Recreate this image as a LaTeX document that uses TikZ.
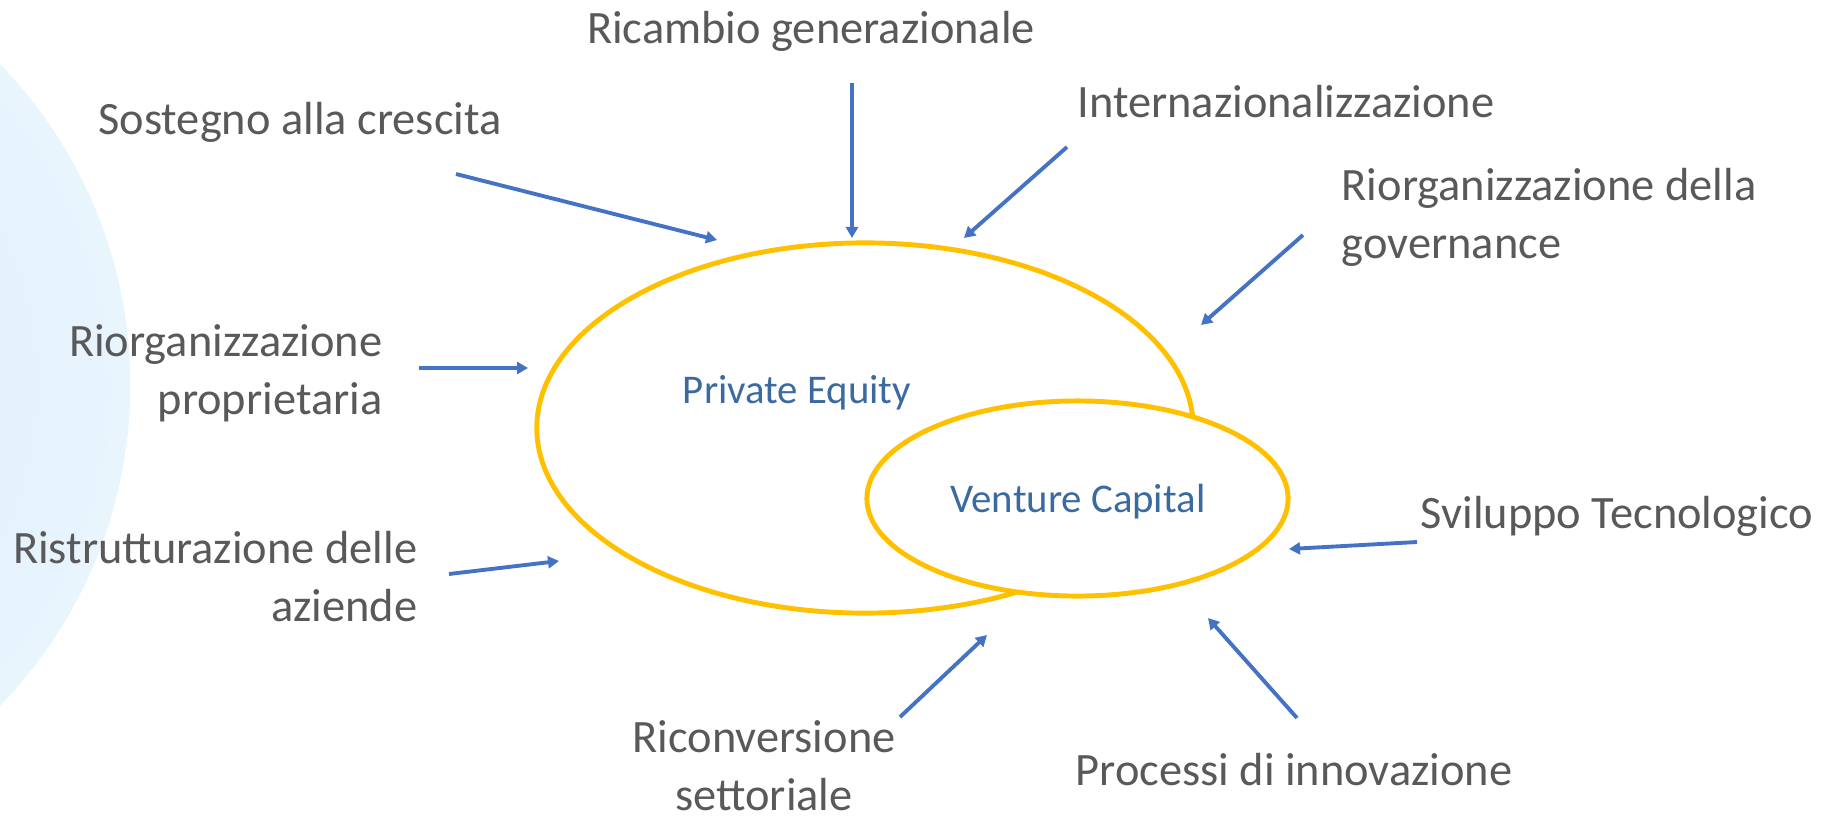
\documentclass[tikz,border=0pt]{standalone}
\usepackage{fontspec}
\setmainfont{Carlito}
\usetikzlibrary{arrows.meta}
\definecolor{txtgray}{HTML}{595959}
\definecolor{arrowblue}{HTML}{4472C4}
\definecolor{ringgold}{HTML}{FFC000}
\definecolor{pvtext}{HTML}{3B6AA0}
\definecolor{bgin}{HTML}{D3E9FA}
\definecolor{bgout}{HTML}{E9F5FD}
\begin{document}
\begin{tikzpicture}[x=0.01cm,y=-0.01cm,
  lbl/.style={text=txtgray, font=\fontsize{13.2}{16.5}\selectfont, inner sep=0pt},
  inlbl/.style={text=pvtext, font=\fontsize{11.6}{14}\selectfont, inner sep=0pt},
  ring/.style={draw=ringgold, line width=1.4pt},
  arr/.style={draw=arrowblue, line width=1.1pt, -{Triangle[length=1.1mm,width=1.2mm]}}]
\useasboundingbox (0,0) rectangle (1821,815);
\begin{scope}
  \clip (0,0) rectangle (1821,815);
  \shade[inner color=bgin, outer color=bgout] (-330,385) circle [radius=4.6cm];
\end{scope}

% rings
\draw[ring] (865,428) ellipse [x radius=3.28cm, y radius=1.85cm];
\draw[ring, fill=white] (1077.5,498.5) ellipse [x radius=2.105cm, y radius=0.975cm];
\node[inlbl] (pe) at (797,393) {Private Equity};
\node[inlbl] (vc) at (1078,502) {Venture Capital};

% labels
\node[lbl] (ric) at (811,31) {Ricambio generazionale};
\node[lbl] (sos) at (300,122) {Sostegno alla crescita};
\node[lbl] (int) at (1286,102) {Internazionalizzazione};
\node[lbl, anchor=west, align=left] (gov) at (1341,217) {Riorganizzazione della\\governance};
\node[lbl, anchor=east, align=right] (pro) at (383,373) {Riorganizzazione\\proprietaria};
\node[lbl, anchor=east, align=right] (ris) at (418,577) {Ristrutturazione delle\\aziende};
\node[lbl, anchor=west] (svi) at (1420,516) {Sviluppo Tecnologico};
\node[lbl] (pdi) at (1294,770) {Processi di innovazione};
\node[lbl, align=center] (rco) at (764,766) {Riconversione\\settoriale};

% arrow end points
\coordinate (s1) at (456,174); \coordinate (e1) at (717,240);
\coordinate (s2) at (852,83);  \coordinate (e2) at (852,238);
\coordinate (s3) at (1067,147); \coordinate (e3) at (964,238);
\coordinate (s4) at (1303,235); \coordinate (e4) at (1201,325);
\coordinate (s5) at (419,368); \coordinate (e5) at (528,368);
\coordinate (s6) at (449,574); \coordinate (e6) at (559,561);
\coordinate (s7) at (900,717); \coordinate (e7) at (987,635);
\coordinate (s8) at (1297,718); \coordinate (e8) at (1208,618);
\coordinate (s9) at (1417,542); \coordinate (e9) at (1289,549);

\draw[arr] (s1) -- (e1);
\draw[arr] (s2) -- (e2);
\draw[arr] (s3) -- (e3);
\draw[arr] (s4) -- (e4);
\draw[arr] (s5) -- (e5);
\draw[arr] (s6) -- (e6);
\draw[arr] (s7) -- (e7);
\draw[arr] (s8) -- (e8);
\draw[arr] (s9) -- (e9);
\end{tikzpicture}
\end{document}
